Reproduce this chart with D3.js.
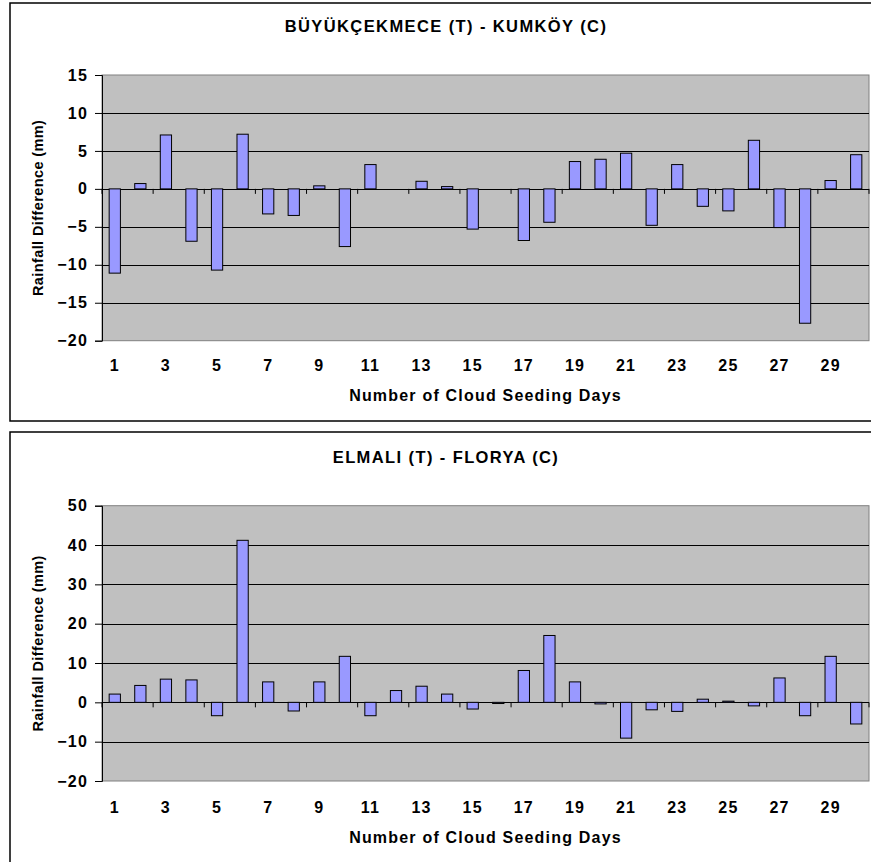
<!DOCTYPE html>
<html>
<head>
<meta charset="utf-8">
<script src="https://cdn.jsdelivr.net/npm/d3@7"></script>
<style>
  body { margin: 0; background: #fff; }
  svg text { font-family: "Liberation Sans", Arial, sans-serif; font-weight: bold; fill: #000; }
</style>
</head>
<body>
<svg id="chart" width="871" height="862"></svg>
<script>
// day numbers 1..30
const days = d3.range(1, 31)

// BÜYÜKÇEKMECE (T) - KUMKÖY (C), rainfall difference in mm
const kumkoyDiff = [-11.1, 0.7, 7.1, -6.9, -10.7, 7.2, -3.3, -3.5, 0.4, -7.6,
  3.2, 0, 1.0, 0.3, -5.3, 0, -6.8, -4.4, 3.6, 3.9,
  4.7, -4.8, 3.2, -2.3, -2.9, 6.4, -5.1, -17.7, 1.1, 4.5]
const kumkoyTicks = [-20, -15, -10, -5, 0, 5, 10, 15]

// ELMALI (T) - FLORYA (C)
const floryaDiff = [2.1, 4.3, 5.9, 5.7, -3.4, 41.2, 5.2, -2.2, 5.2, 11.7,
  -3.4, 3.0, 4.1, 2.1, -1.7, -0.3, 8.1, 17.0, 5.2, -0.4,
  -9.1, -1.9, -2.3, 0.8, 0.3, -0.9, 6.2, -3.4, 11.7, -5.5]
const floryaTicks = [-20, -10, 0, 10, 20, 30, 40, 50]

const xLabels = days.filter(d => d % 2 === 1)

const svg = d3.select("#chart")

function drawPanel(opts) {
  const { frameTop, frameBottom, plotTop, plotBottom, values, ticks, title,
    titleY, xLabelY, xTitleY } = opts
  const left = 102, right = 869

  svg.append("rect")
    .attr("x", 10).attr("y", frameTop)
    .attr("width", 900).attr("height", frameBottom - frameTop)
    .attr("fill", "#fff").attr("stroke", "#000").attr("stroke-width", 1.5)

  const x = d3.scaleBand()
    .domain(days)
    .range([left, right])
    .paddingInner(0.56)
    .paddingOuter(0.28)

  const y = d3.scaleLinear()
    .domain(d3.extent(ticks))
    .range([plotBottom, plotTop])

  // plot background
  svg.append("rect")
    .attr("x", left).attr("y", plotTop)
    .attr("width", right - left).attr("height", plotBottom - plotTop)
    .attr("fill", "#c0c0c0").attr("stroke", "#808080").attr("stroke-width", 1)

  // gridlines
  svg.append("g")
    .selectAll("line")
    .data(ticks.filter(t => t !== ticks[0] && t !== ticks[ticks.length - 1]))
    .join("line")
    .attr("x1", left).attr("x2", right)
    .attr("y1", d => Math.round(y(d)) + 0.5).attr("y2", d => Math.round(y(d)) + 0.5)
    .attr("stroke", "#000").attr("stroke-width", 1)

  // bars
  svg.append("g")
    .selectAll("rect")
    .data(days)
    .join("rect")
    .attr("x", d => x(d))
    .attr("width", x.bandwidth())
    .attr("y", (d, i) => y(Math.max(0, values[i])))
    .attr("height", (d, i) => Math.abs(y(values[i]) - y(0)))
    .attr("fill", "#9999ff")
    .attr("stroke", "#000")
    .attr("stroke-width", 1)

  // y axis
  const yAxis = svg.append("g")
    .attr("transform", `translate(${left},0)`)
    .call(d3.axisLeft(y).tickValues(ticks).tickSize(7).tickPadding(7))
  yAxis.select(".domain").attr("stroke", "#000")
  yAxis.selectAll("text")
    .style("font-size", "16px").style("letter-spacing", "1.2px")
    .attr("fill", "#000")

  // tick marks on the zero line, every second category boundary
  const step = x.step()
  svg.append("g")
    .selectAll("line")
    .data(d3.range(0, 31, 2))
    .join("line")
    .attr("x1", d => left + d * step).attr("x2", d => left + d * step)
    .attr("y1", y(0)).attr("y2", y(0) + 5)
    .attr("stroke", "#000")

  // x tick labels at the bottom
  svg.append("g")
    .selectAll("text")
    .data(xLabels)
    .join("text")
    .attr("x", d => x(d) + x.bandwidth() / 2)
    .attr("y", xLabelY)
    .attr("text-anchor", "middle")
    .style("font-size", "16px").style("letter-spacing", "1.2px")
    .text(d => d)

  svg.append("text")
    .attr("x", 446).attr("y", titleY)
    .attr("text-anchor", "middle")
    .style("font-size", "16.5px").style("letter-spacing", "1.4px")
    .text(title)

  svg.append("text")
    .attr("x", (left + right) / 2).attr("y", xTitleY)
    .attr("text-anchor", "middle")
    .style("font-size", "16px").style("letter-spacing", "1.2px")
    .text("Number of Cloud Seeding Days")

  const midY = (plotTop + plotBottom) / 2
  svg.append("text")
    .attr("transform", `translate(43,${midY}) rotate(-90)`)
    .attr("text-anchor", "middle")
    .style("font-size", "14.5px").style("letter-spacing", "0.4px")
    .text("Rainfall Difference (mm)")
}

drawPanel({
  frameTop: 3, frameBottom: 421, plotTop: 75, plotBottom: 340.7,
  values: kumkoyDiff, ticks: kumkoyTicks,
  title: "BÜYÜKÇEKMECE (T) - KUMKÖY (C)",
  titleY: 31.7, xLabelY: 371, xTitleY: 400.7
})

drawPanel({
  frameTop: 432, frameBottom: 900, plotTop: 505.7, plotBottom: 781,
  values: floryaDiff, ticks: floryaTicks,
  title: "ELMALI (T) - FLORYA (C)",
  titleY: 462.7, xLabelY: 812.7, xTitleY: 843.3
})
</script>
</body>
</html>
